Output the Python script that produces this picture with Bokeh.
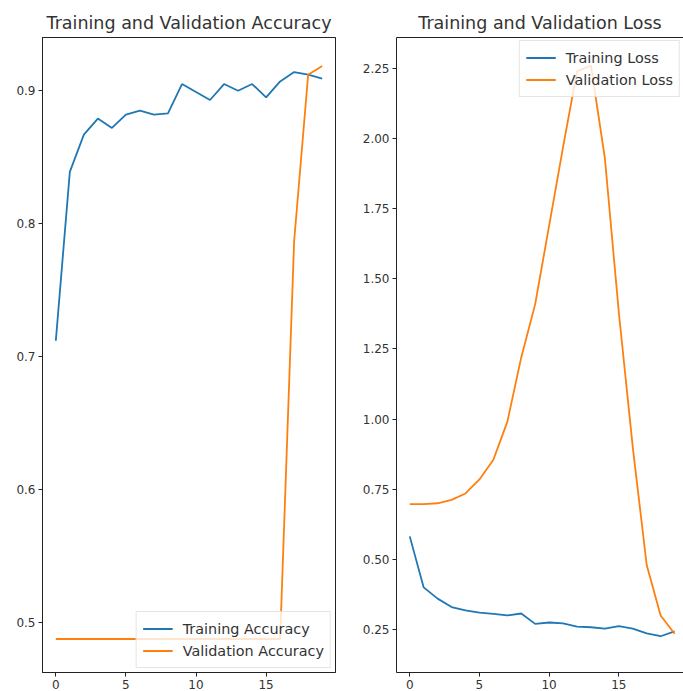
from bokeh.plotting import figure
from bokeh.layouts import row
from bokeh.models import FixedTicker, Legend, LegendItem, Range1d, LinearAxis
from bokeh.embed import file_html
from bokeh.resources import INLINE

epochs = [0, 1, 2, 3, 4, 5, 6, 7, 8, 9, 10, 11, 12, 13, 14, 15, 16, 17, 18, 19]
train_acc = [0.712, 0.839, 0.867, 0.879, 0.872, 0.882, 0.885, 0.882, 0.883, 0.905,
             0.899, 0.893, 0.905, 0.900, 0.905, 0.895, 0.907, 0.914, 0.912, 0.909]
val_acc = [0.4877, 0.4877, 0.4877, 0.4877, 0.4877, 0.4877, 0.4877, 0.4877, 0.4877, 0.4877,
           0.4877, 0.4877, 0.4877, 0.4877, 0.4877, 0.4877, 0.4877, 0.787, 0.912, 0.9185]
train_loss = [0.582, 0.400, 0.360, 0.330, 0.318, 0.310, 0.306, 0.300, 0.307, 0.270,
              0.275, 0.272, 0.260, 0.258, 0.253, 0.262, 0.253, 0.236, 0.226, 0.243]
val_loss = [0.697, 0.697, 0.700, 0.712, 0.735, 0.785, 0.855, 0.990, 1.220, 1.410,
            1.690, 1.970, 2.240, 2.260, 1.930, 1.380, 0.900, 0.480, 0.300, 0.235]

x_ticks = [0, 5, 10, 15]
x_tick_labels = ["0", "5", "10", "15"]
acc_ticks = [0.5, 0.6, 0.7, 0.8, 0.9]
acc_tick_labels = ["0.5", "0.6", "0.7", "0.8", "0.9"]
loss_ticks = [0.25, 0.5, 0.75, 1.0, 1.25, 1.5, 1.75, 2.0, 2.25]
loss_tick_labels = ["0.25", "0.50", "0.75", "1.00", "1.25", "1.50", "1.75", "2.00", "2.25"]

BLUE = "#1f77b4"
ORANGE = "#ff7f0e"
FONT = "DejaVu Sans"
TXT = "#333333"
H = 691


def style(p, xt, xl, yt, yl):
    p.grid.visible = False
    p.xaxis.ticker = FixedTicker(ticks=xt)
    p.xaxis.major_label_overrides = dict(zip(xt, xl))
    p.yaxis.ticker = FixedTicker(ticks=yt)
    p.yaxis.major_label_overrides = dict(zip(yt, yl))
    for ax in (p.xaxis[0], p.yaxis[0]):
        ax.minor_tick_line_color = None
        ax.major_tick_in = 0
        ax.major_tick_out = 4
        ax.major_tick_line_color = "#222222"
        ax.axis_line_color = "#222222"
        ax.major_label_text_font = FONT
        ax.major_label_text_font_size = "12px"
        ax.major_label_text_color = TXT
        ax.major_label_standoff = 3
    top = LinearAxis(ticker=FixedTicker(ticks=[]), major_label_text_font_size="0px",
                     major_tick_line_color=None, minor_tick_line_color=None,
                     axis_line_color="#222222")
    p.add_layout(top, "above")
    p.title.text_font = FONT
    p.title.text_font_size = "17.5px"
    p.title.text_font_style = "normal"
    p.title.text_color = TXT
    p.title.align = "center"
    p.background_fill_color = "white"
    p.border_fill_color = "white"


def legend(p, items, loc, margin):
    lg = Legend(items=items, location=loc)
    lg.label_text_font = FONT
    lg.label_text_font_size = "14.4px"
    lg.label_text_color = TXT
    lg.glyph_width = 30
    lg.glyph_height = 21
    lg.label_height = 21
    lg.label_standoff = 10
    lg.padding = 6
    lg.spacing = 1
    lg.margin = margin
    lg.border_line_color = "#cccccc"
    lg.background_fill_alpha = 0.8
    p.add_layout(lg)


p1 = figure(width=352, height=H, output_backend="svg", toolbar_location=None,
            title="Training and Validation Accuracy",
            x_range=Range1d(-0.95, 19.95), y_range=Range1d(0.4625, 0.94),
            min_border_left=42, min_border_right=17, min_border_top=37, min_border_bottom=0)
style(p1, x_ticks, x_tick_labels, acc_ticks, acc_tick_labels)
p1.outline_line_color = "#222222"
r1 = p1.line(epochs, train_acc, line_color=BLUE, line_width=1.8)
r2 = p1.line(epochs, val_acc, line_color=ORANGE, line_width=1.8)
legend(p1, [LegendItem(label="Training Accuracy", renderers=[r1]),
            LegendItem(label="Validation Accuracy", renderers=[r2])], "bottom_right", 4)

p2 = figure(width=331, height=H, output_backend="svg", toolbar_location=None,
            title="Training and Validation Loss",
            x_range=Range1d(-0.95, 19.64), y_range=Range1d(0.0967, 2.3605),
            min_border_left=44, min_border_right=0, min_border_top=37, min_border_bottom=0)
style(p2, x_ticks, x_tick_labels, loss_ticks, loss_tick_labels)
p2.outline_line_color = None
r3 = p2.line(epochs, train_loss, line_color=BLUE, line_width=1.8)
r4 = p2.line(epochs, val_loss, line_color=ORANGE, line_width=1.8)
legend(p2, [LegendItem(label="Training Loss", renderers=[r3]),
            LegendItem(label="Validation Loss", renderers=[r4])], "top_right", 3)

layout = row(p1, p2)
open("out.html", "w").write(file_html(layout, INLINE))
